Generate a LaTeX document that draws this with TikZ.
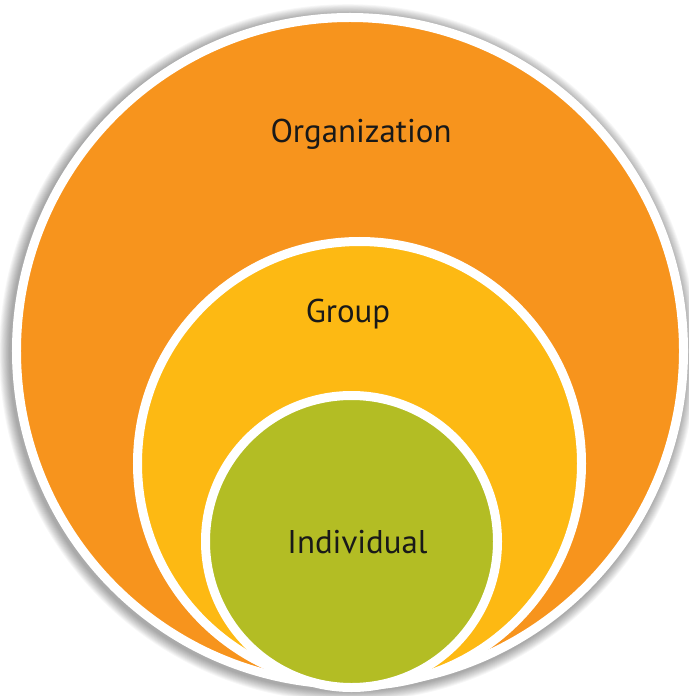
\documentclass[tikz,border=0pt]{standalone}
\usepackage{fontspec}
\setmainfont{PT Sans}
\definecolor{orgorange}{HTML}{F7941D}
\definecolor{grpyellow}{HTML}{FDB913}
\definecolor{indgreen}{HTML}{B3BD24}
\begin{document}
\begin{tikzpicture}[x=1bp,y=-1bp,
  ring/.style={circle, draw=white, line width=9bp, inner sep=0pt},
  lbl/.style={font=\fontsize{33}{38}\selectfont, text=black!90, inner sep=0pt, anchor=base}]
\useasboundingbox (0,0) rectangle (689,696);
\fill[white] (0,0) rectangle (689,696);
% soft shadow
\foreach \k in {1,...,12}{
  \fill[black, opacity=0.03] (348,353) circle[radius=338+\k*0.9];
}
\node[ring, fill=orgorange, minimum size=667bp] (org) at (350,351) {};
\node[ring, fill=grpyellow, minimum size=444bp] (grp) at (359.5,463.5) {};
\node[ring, fill=indgreen, minimum size=292bp] (ind) at (351.5,541.5) {};
\node[lbl] (orgtxt) at (361,142) {Organization};
\node[lbl] (grptxt) at (348,322) {Group};
\node[lbl] (indtxt) at (357.5,553) {Individual};
\end{tikzpicture}
\end{document}
